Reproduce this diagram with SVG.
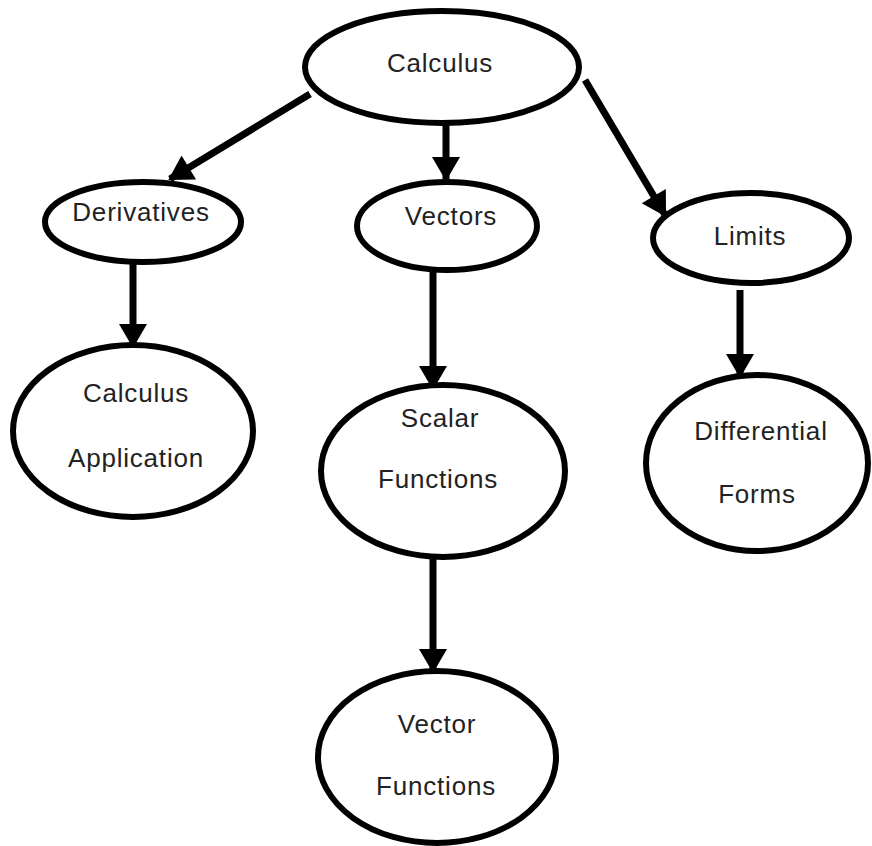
<svg xmlns="http://www.w3.org/2000/svg" width="872" height="846" viewBox="0 0 872 846">
<style>
.node ellipse{fill:#fff;stroke:#000;stroke-width:6}
.node text{font-family:"Liberation Sans",Arial,sans-serif;font-size:26px;letter-spacing:0.8px;fill:#222;text-anchor:middle}
.conn line{stroke:#000;stroke-width:7;marker-end:url(#ah)}
</style>
<defs>
<marker id="ah" markerUnits="userSpaceOnUse" markerWidth="28" markerHeight="28" viewBox="0 0 24 28" refX="22" refY="14" orient="auto">
<path d="M0,0 L24,14 L0,28 Z" fill="#000"/>
</marker>
</defs>
<rect width="872" height="846" fill="#fff"/>
<g id="connectors" class="conn">
<line x1="310" y1="94" x2="170" y2="179"/>
<line x1="446" y1="122" x2="446" y2="179"/>
<line x1="585" y1="80" x2="665" y2="215"/>
<line x1="133" y1="263" x2="133" y2="346"/>
<line x1="433" y1="272" x2="433" y2="388"/>
<line x1="433" y1="558" x2="433" y2="671"/>
<line x1="740" y1="290" x2="740" y2="376"/>
</g>
<g id="calculus" class="node"><ellipse cx="442" cy="67" rx="137" ry="56"/><text x="440" y="72">Calculus</text></g>
<g id="derivatives" class="node"><ellipse cx="143" cy="222" rx="98" ry="40"/><text x="141" y="221">Derivatives</text></g>
<g id="vectors" class="node"><ellipse cx="447" cy="226" rx="90" ry="44"/><text x="451" y="225">Vectors</text></g>
<g id="limits" class="node"><ellipse cx="751" cy="238" rx="98" ry="45"/><text x="750" y="245">Limits</text></g>
<g id="calculus-application" class="node"><ellipse cx="133" cy="431" rx="120" ry="86"/><text x="136" y="402">Calculus</text><text x="136" y="467">Application</text></g>
<g id="scalar-functions" class="node"><ellipse cx="443" cy="471" rx="122" ry="86"/><text x="440" y="427">Scalar</text><text x="438" y="488">Functions</text></g>
<g id="differential-forms" class="node"><ellipse cx="757" cy="463" rx="111" ry="88"/><text x="761" y="440">Differential</text><text x="757" y="503">Forms</text></g>
<g id="vector-functions" class="node"><ellipse cx="437" cy="757" rx="119" ry="86"/><text x="437" y="733">Vector</text><text x="436" y="795">Functions</text></g>
</svg>
